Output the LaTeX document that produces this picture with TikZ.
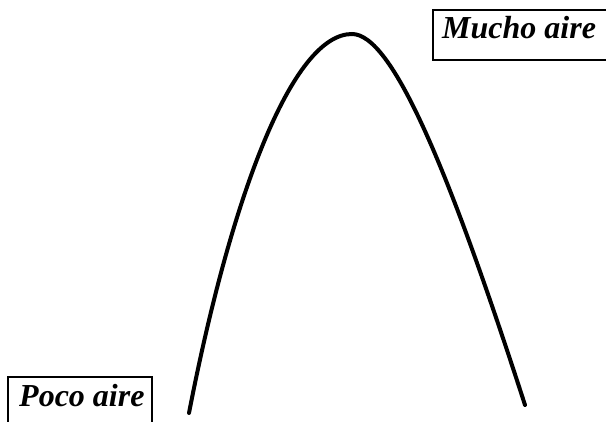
\documentclass[tikz,border=0pt]{standalone}
\usepackage{fontspec}
\setmainfont{Liberation Serif}
\begin{document}
\begin{tikzpicture}[x=1pt,y=1pt,
  boxline/.style={draw=black,line width=1.7pt},
  labeltext/.style={font=\bfseries\itshape\fontsize{32}{36}\selectfont,inner sep=0pt,anchor=base west}]
\useasboundingbox (0,0) rectangle (606,421);
\clip (0,0) rectangle (606,421);
\fill[white] (0,0) rectangle (606,421);
\node[labeltext] (mucho) at (442,382) {Mucho aire};
\draw[boxline] (433,361) rectangle (640,411);
\node[labeltext] (poco) at (19,14) {Poco aire};
\draw[boxline] (8,-20) rectangle (152,44);
\coordinate (start) at (189,8);
\coordinate (peak) at (352,387);
\coordinate (end) at (525,16);
\draw[line width=4pt,line cap=round]
  (start) .. controls (231,224) and (292,387) .. (peak)
  .. controls (392,387) and (448,254) .. (end);
\end{tikzpicture}
\end{document}
